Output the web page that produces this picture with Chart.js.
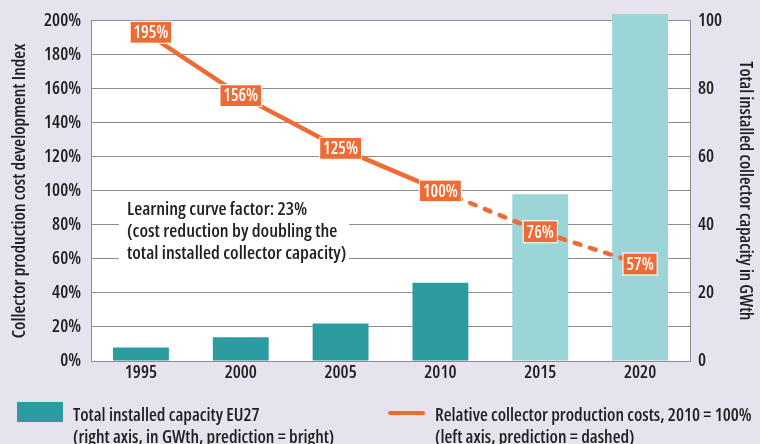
<!DOCTYPE html>
<html>
<head>
<meta charset="utf-8">
<script src="https://cdn.jsdelivr.net/npm/chart.js@4/dist/chart.umd.min.js"></script>
<style>
  html, body { margin: 0; padding: 0; background: #e6e2ee; }
  #wrap { position: relative; width: 760px; height: 444px; overflow: hidden;
          font-family: 'Open Sans', sans-serif; font-weight: 600; color: #231f20; }
  canvas { position: absolute; left: 0; top: 0; }
  .note { position: absolute; left: 119px; top: 197px; width: 230px; height: 72px; background: #fff;
          font-size: 18.5px; font-stretch: 87.5%; line-height: 22px; padding-left: 8px; box-sizing: border-box; white-space: nowrap; }
  .leg { position: absolute; font-size: 18px; font-stretch: 87.5%; line-height: 22px; white-space: nowrap; }
  .sw { position: absolute; }
</style>
</head>
<body>
<div id="wrap">
  <canvas id="c" width="760" height="444"></canvas>
  <div class="note">Learning curve factor: 23%<br>(cost reduction by doubling the<br>total installed collector capacity)</div>
  <div class="sw" style="left:17px;top:402px;width:46px;height:20px;background:#2c9ca1;"></div>
  <div class="leg" style="left:73px;top:403px;">Total installed capacity EU27<br>(right axis, in GWth, prediction = bright)</div>
  <div class="sw" style="left:388px;top:411px;width:37px;height:4px;background:#ef6b35;border-radius:2px;"></div>
  <div class="leg" style="left:435px;top:403px;">Relative collector production costs, 2010 = 100%<br>(left axis, prediction = dashed)</div>
</div>
<script>
const years = ['1995', '2000', '2005', '2010', '2015', '2020'];
const capacityGWth = [4, 7, 11, 23, 49, 102];
const costIndex = [195, 156, 125, 100, 76, 57];
const predicted = [false, false, false, false, true, true];
const leftTicks = [0, 20, 40, 60, 80, 100, 120, 140, 160, 180, 200];
const rightTicks = [0, 20, 40, 60, 80, 100];

const FONT = "'Open Sans', sans-serif";
const ORANGE = '#ef6b35';
const TEXT = '#231f20';
const GRID = '#8c8c8c';

const bgPlugin = {
  id: 'plotBg',
  beforeDraw(chart) {
    const {ctx, chartArea: a} = chart;
    ctx.save();
    ctx.fillStyle = '#ffffff';
    ctx.fillRect(a.left, a.top, a.right - a.left, a.bottom - a.top);
    ctx.restore();
  }
};

const labelPlugin = {
  id: 'valueBoxes',
  afterDatasetsDraw(chart) {
    const ctx = chart.ctx;
    const idx = chart.data.datasets.findIndex(d => d.type === 'line');
    const meta = chart.getDatasetMeta(idx);
    ctx.save();
    ctx.font = 'semi-condensed 600 17px ' + FONT;
    ctx.textAlign = 'center';
    ctx.textBaseline = 'middle';
    meta.data.forEach((pt, i) => {
      const txt = costIndex[i] + '%';
      const w = ctx.measureText(txt).width + 6;
      const h = 21;
      const x = pt.x + (i === 0 ? 10 : 0);
      const y = pt.y + (i === 0 ? 3 : 0);
      ctx.fillStyle = ORANGE;
      ctx.fillRect(x - w / 2, y - h / 2, w, h);
      ctx.strokeStyle = '#ffffff';
      ctx.lineWidth = 1;
      ctx.strokeRect(x - w / 2 - 0.5, y - h / 2 - 0.5, w + 1, h + 1);
      ctx.fillStyle = '#ffffff';
      ctx.fillText(txt, x, y + 1);
    });
    ctx.restore();
  }
};

const tickFont = { family: FONT, size: 18, weight: 'semi-condensed 600' };
const leftTitleFont = { family: FONT, size: 18, weight: 'semi-condensed 600' };
const rightTitleFont = { family: FONT, size: 17.5, weight: 'semi-condensed 600' };

new Chart(document.getElementById('c'), {
  data: {
    labels: years,
    datasets: [
      {
        type: 'line',
        label: 'Relative collector production costs, 2010 = 100%',
        data: costIndex,
        yAxisID: 'y',
        borderColor: ORANGE,
        borderWidth: 4.5,
        borderCapStyle: 'round',
        pointRadius: 0,
        tension: 0,
        order: 0,
        segment: {
          borderDash: c => predicted[c.p1DataIndex] ? [6, 10] : undefined
        }
      },
      {
        type: 'bar',
        label: 'Total installed capacity EU27',
        data: capacityGWth,
        yAxisID: 'y1',
        backgroundColor: predicted.map(p => p ? '#9cd5d7' : '#2c9ca1'),
        barPercentage: 0.56,
        categoryPercentage: 1,
        clip: false,
        order: 1
      }
    ]
  },
  options: {
    responsive: false,
    animation: false,
    devicePixelRatio: 1,
    layout: { padding: { top: 20, bottom: 55, left: 0, right: 0 } },
    plugins: { legend: { display: false }, tooltip: { enabled: false } },
    scales: {
      x: {
        grid: { display: false, drawTicks: false },
        border: { display: true, color: GRID, width: 1 },
        ticks: { color: TEXT, font: tickFont, padding: 1 },
        afterFit: s => { s.height = 28; }
      },
      y: {
        position: 'left',
        min: 0, max: 200,
        afterBuildTicks: s => { s.ticks = leftTicks.map(v => ({ value: v })); },
        ticks: { color: TEXT, font: tickFont, padding: 10, callback: v => v + '%' },
        grid: { color: GRID, lineWidth: 1, drawTicks: false },
        border: { display: true, color: GRID, width: 1 },
        title: { display: true, text: 'Collector production cost development Index', color: TEXT,
                 font: leftTitleFont, padding: { top: 9 } },
        afterFit: s => { s.width = 91; }
      },
      y1: {
        position: 'right',
        min: 0, max: 100,
        afterBuildTicks: s => { s.ticks = rightTicks.map(v => ({ value: v })); },
        ticks: { color: TEXT, font: tickFont, padding: 8 },
        grid: { drawOnChartArea: false, drawTicks: false },
        border: { display: true, color: GRID, width: 1 },
        title: { display: true, text: 'Total installed collector capacity in GWth', color: TEXT,
                 font: rightTitleFont, padding: { top: 5 } },
        afterFit: s => { s.width = 70; }
      }
    }
  },
  plugins: [bgPlugin, labelPlugin]
});
</script>
</body>
</html>
